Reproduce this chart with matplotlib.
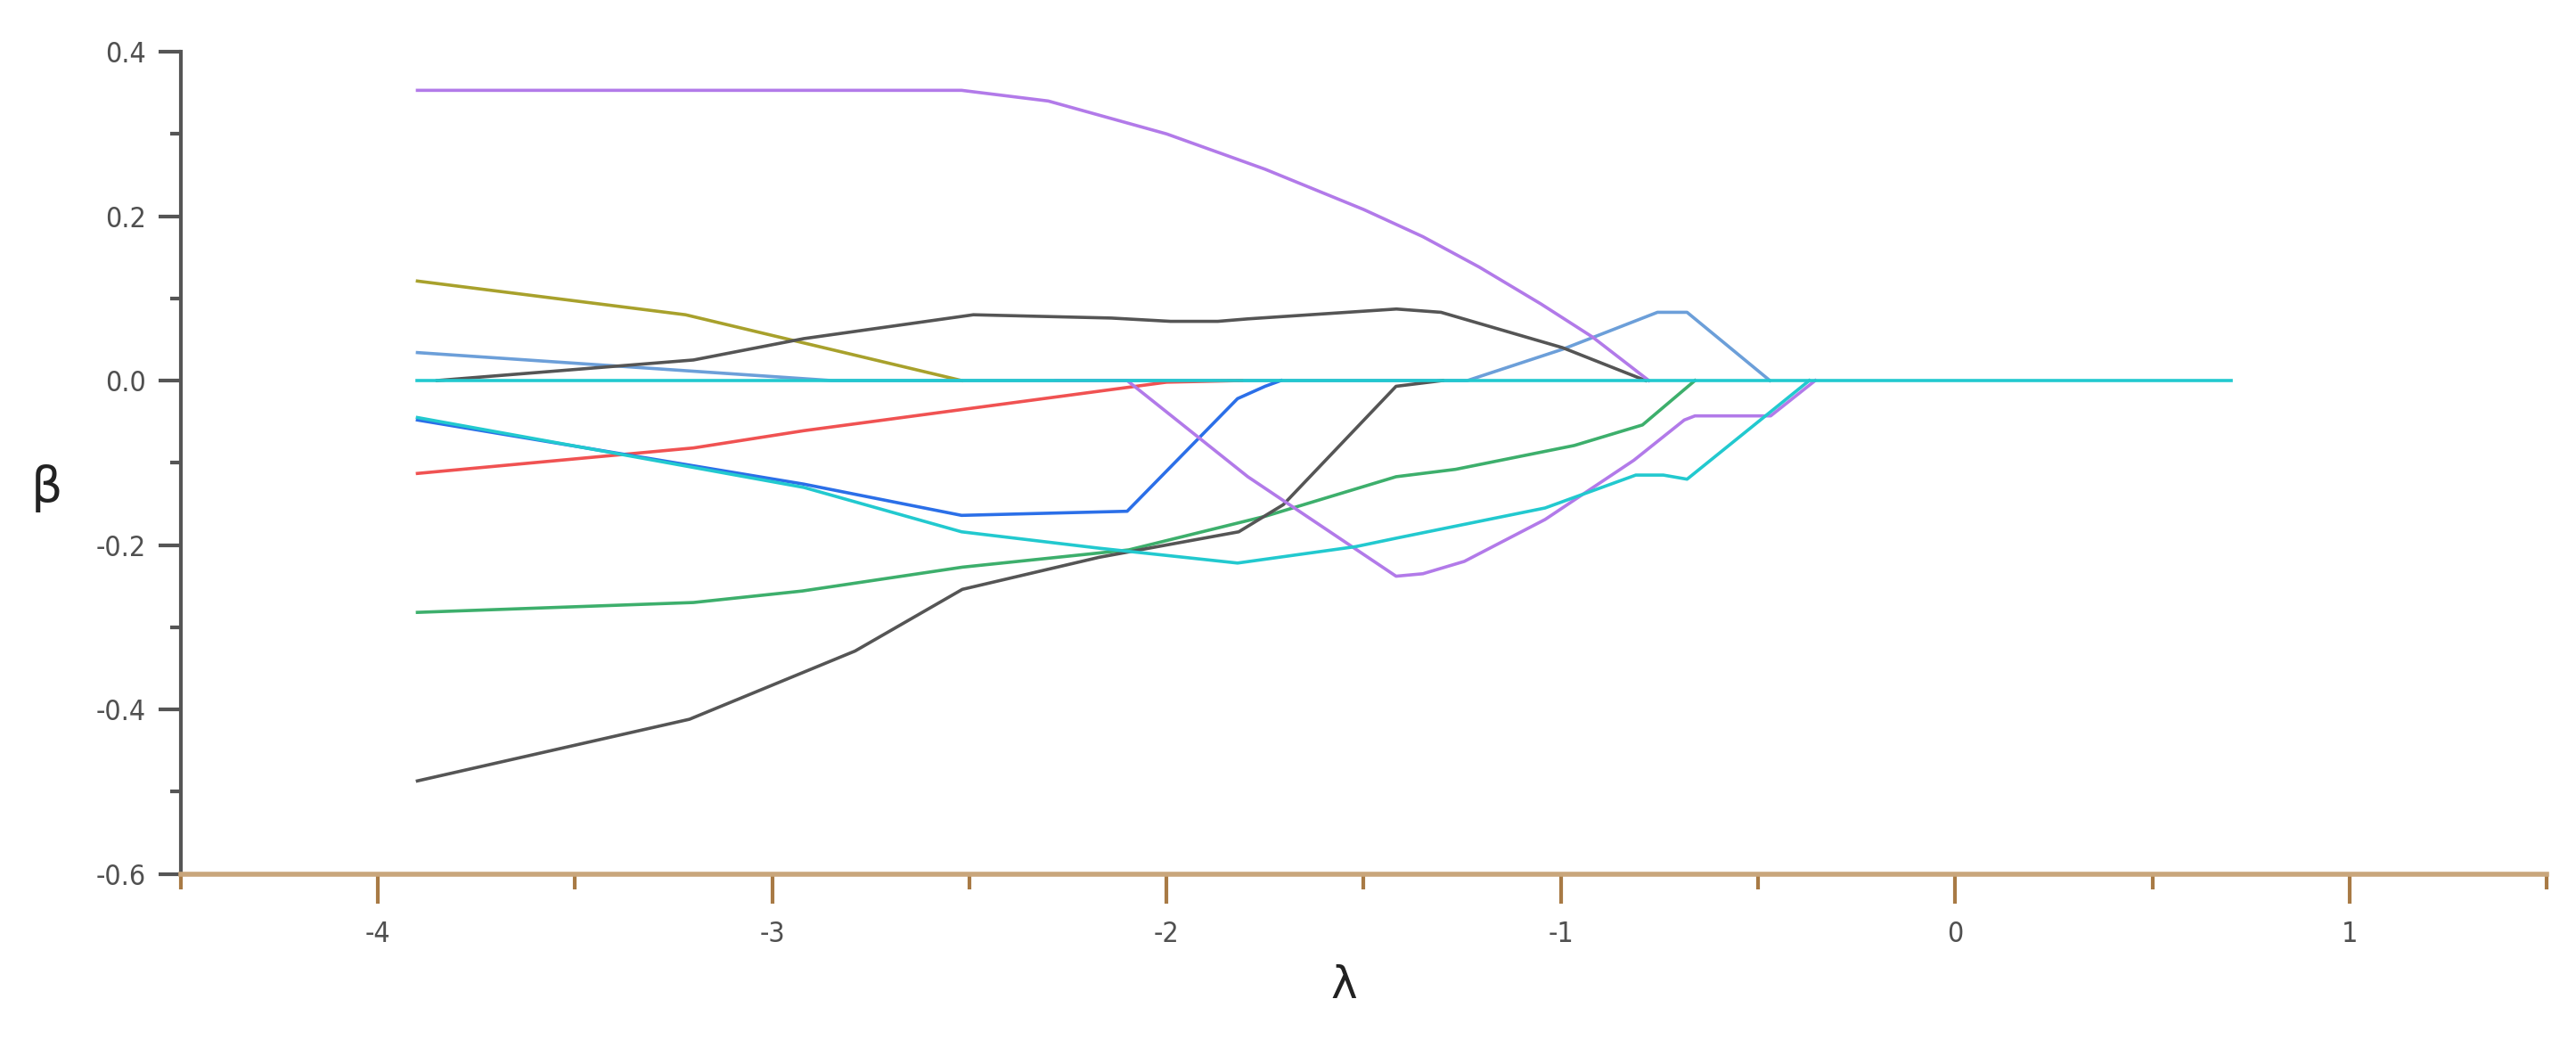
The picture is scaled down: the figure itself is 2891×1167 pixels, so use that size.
import matplotlib
matplotlib.use("Agg")
import matplotlib.pyplot as plt
from matplotlib.ticker import MultipleLocator

# coefficient paths, x = log(lambda), y = beta
purple_a_x = [-3.9, -2.52, -2.3, -2.0, -1.75, -1.5, -1.35, -1.207, -1.05, -0.92, -0.777]
purple_a_y = [0.353, 0.353, 0.340, 0.300, 0.257, 0.208, 0.175, 0.138, 0.093, 0.053, 0.0]

olive_x = [-3.9, -3.22, -2.52]
olive_y = [0.121, 0.080, 0.0]

lightblue_x = [-3.9, -2.85, -1.237, -0.996, -0.755, -0.68, -0.47]
lightblue_y = [0.034, 0.0, 0.0, 0.038, 0.083, 0.083, 0.0]

gray_top_x = [-3.85, -3.2, -2.92, -2.49, -2.14, -1.99, -1.87, -1.794, -1.417, -1.304, -0.996, -0.785]
gray_top_y = [0.0, 0.025, 0.051, 0.080, 0.076, 0.072, 0.072, 0.075, 0.087, 0.083, 0.040, 0.0]

red_x = [-3.9, -3.2, -2.92, -2.0, -1.81]
red_y = [-0.113, -0.082, -0.061, -0.002, 0.0]

blue_x = [-3.9, -2.92, -2.52, -2.10, -1.82, -1.75, -1.71]
blue_y = [-0.048, -0.126, -0.164, -0.159, -0.022, -0.007, 0.0]

cyan_x = [-3.9, -2.92, -2.52, -2.17, -1.82, -1.52, -1.41, -1.04, -0.81, -0.74, -0.68, -0.37]
cyan_y = [-0.045, -0.130, -0.184, -0.204, -0.222, -0.202, -0.191, -0.155, -0.115, -0.115, -0.120, 0.0]

green_x = [-3.9, -3.2, -2.924, -2.518, -2.096, -1.749, -1.418, -1.267, -0.966, -0.793, -0.66]
green_y = [-0.282, -0.270, -0.256, -0.227, -0.206, -0.165, -0.117, -0.108, -0.079, -0.054, 0.0]

gray_low_x = [-3.9, -3.21, -2.79, -2.518, -2.171, -1.817, -1.704, -1.418, -1.30]
gray_low_y = [-0.487, -0.412, -0.329, -0.254, -0.215, -0.184, -0.151, -0.007, 0.0]

purple_b_x = [-2.28, -2.10, -1.794, -1.418, -1.35, -1.245, -1.04, -0.815, -0.687, -0.66, -0.468, -0.355]
purple_b_y = [0.0, 0.0, -0.117, -0.238, -0.235, -0.220, -0.169, -0.097, -0.048, -0.043, -0.043, 0.0]

zero_x = [-3.9, 0.7]
zero_y = [0.0, 0.0]

series = [
    (olive_x, olive_y, "#a8a12c"),
    (lightblue_x, lightblue_y, "#6c9fd9"),
    (gray_top_x, gray_top_y, "#555555"),
    (red_x, red_y, "#f05252"),
    (green_x, green_y, "#3daf6c"),
    (gray_low_x, gray_low_y, "#555555"),
    (blue_x, blue_y, "#2b6fe8"),
    (purple_a_x, purple_a_y, "#b27ae9"),
    (purple_b_x, purple_b_y, "#b27ae9"),
    (cyan_x, cyan_y, "#22c9cf"),
    (zero_x, zero_y, "#22c9cf"),
]

fig = plt.figure(figsize=(28.91, 11.67), dpi=100)
ax = fig.add_axes([0.0702, 0.1598, 0.9184, 0.7905])

for xs, ys, c in series:
    ax.plot(xs, ys, color=c, linewidth=2.6)

ax.set_xlim(-4.5, 1.5)
ax.set_ylim(-0.6, 0.4)

ax.spines["top"].set_visible(False)
ax.spines["right"].set_visible(False)
ax.spines["left"].set_color("#555555")
ax.spines["left"].set_linewidth(3)
ax.spines["bottom"].set_color("#c9a67c")
ax.spines["bottom"].set_linewidth(4)

ax.xaxis.set_major_locator(MultipleLocator(1))
ax.xaxis.set_minor_locator(MultipleLocator(0.5))
ax.yaxis.set_major_locator(MultipleLocator(0.2))
ax.yaxis.set_minor_locator(MultipleLocator(0.1))

ax.tick_params(axis="y", which="major", length=18, width=3, color="#555555",
               labelsize=23, labelcolor="#505050", pad=10)
ax.tick_params(axis="y", which="minor", length=9, width=3, color="#555555")
ax.tick_params(axis="x", which="major", length=24, width=3, color="#a87a45",
               labelsize=23, labelcolor="#505050", pad=14)
ax.tick_params(axis="x", which="minor", length=12, width=3, color="#a87a45")
ax.set_yticks([-0.6, -0.4, -0.2, 0.0, 0.2, 0.4])
ax.set_yticklabels(["-0.6", "-0.4", "-0.2", "0.0", "0.2", "0.4"],
                   family="DejaVu Sans", stretch="condensed")
ax.set_xticks([-4, -3, -2, -1, 0, 1])
ax.set_xticklabels(["-4", "-3", "-2", "-1", "0", "1"],
                   family="DejaVu Sans", stretch="condensed")

fig.text(0.018, 0.53, "β", fontsize=40, color="#222222", ha="center", va="center")
fig.text(0.5216, 0.052, "λ", fontsize=36, color="#222222", ha="center", va="center")

fig.savefig("out.png", dpi=100)
